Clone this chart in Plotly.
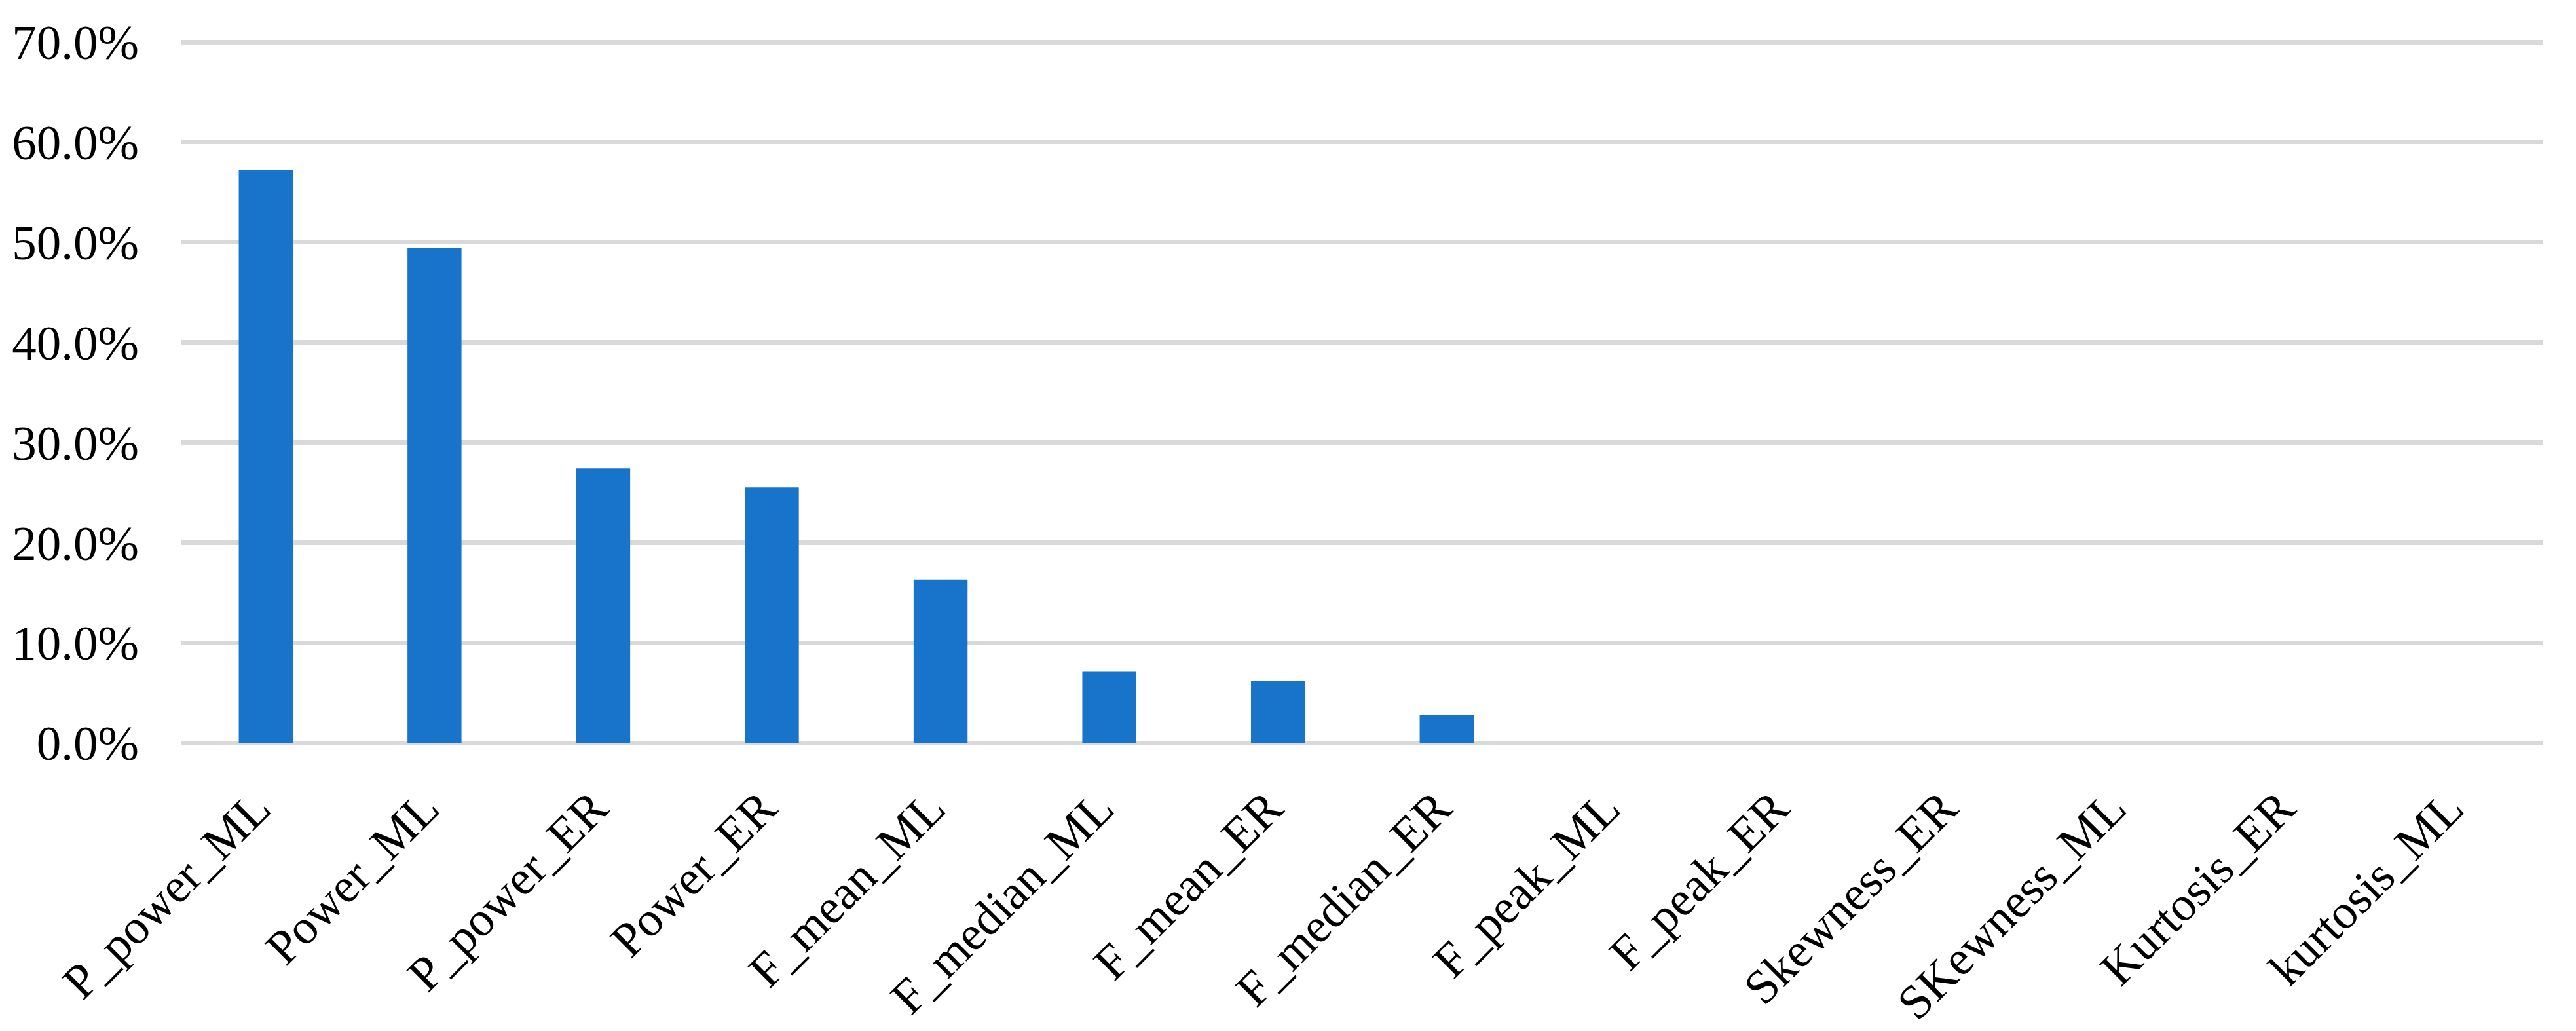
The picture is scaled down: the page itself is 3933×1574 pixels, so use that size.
import plotly.graph_objects as go

categories = ["P_power_ML", "Power_ML", "P_power_ER", "Power_ER", "F_mean_ML",
              "F_median_ML", "F_mean_ER", "F_median_ER", "F_peak_ML", "F_peak_ER",
              "Skewness_ER", "SKewness_ML", "Kurtosis_ER", "kurtosis_ML"]
values = [0.572, 0.494, 0.274, 0.255, 0.163, 0.071, 0.062, 0.028, 0.0, 0.0, 0.0, 0.0, 0.0, 0.0]
y_ticks = [0.0, 0.1, 0.2, 0.3, 0.4, 0.5, 0.6, 0.7]

fig = go.Figure(go.Bar(x=categories, y=values, marker=dict(color="#1874CA", line=dict(width=0))))

fig.update_layout(
    width=3933, height=1574,
    margin=dict(l=269, r=58, t=51, b=448, autoexpand=False),
    paper_bgcolor="white", plot_bgcolor="white",
    bargap=0.68,
    showlegend=False,
    font=dict(family="Liberation Serif, Times New Roman, serif", color="black", size=74),
)
fig.update_yaxes(
    range=[0, 0.70327], tickvals=y_ticks, tickformat=".1%",
    showgrid=True, gridcolor="#D9D9D9", gridwidth=7,
    zeroline=True, zerolinecolor="#D9D9D9", zerolinewidth=7,
    showline=False, ticks="", ticklabelstandoff=64,
    tickfont=dict(size=75, color="black", family="Liberation Serif, Times New Roman, serif"),
)
fig.update_xaxes(
    tickangle=-45, ticks="", showline=False, showgrid=False,
    ticklabelstandoff=40, ticklabelshift=-15,
    tickfont=dict(size=74, color="black", family="Liberation Serif, Times New Roman, serif"),
)

fig.write_html("out.html")
